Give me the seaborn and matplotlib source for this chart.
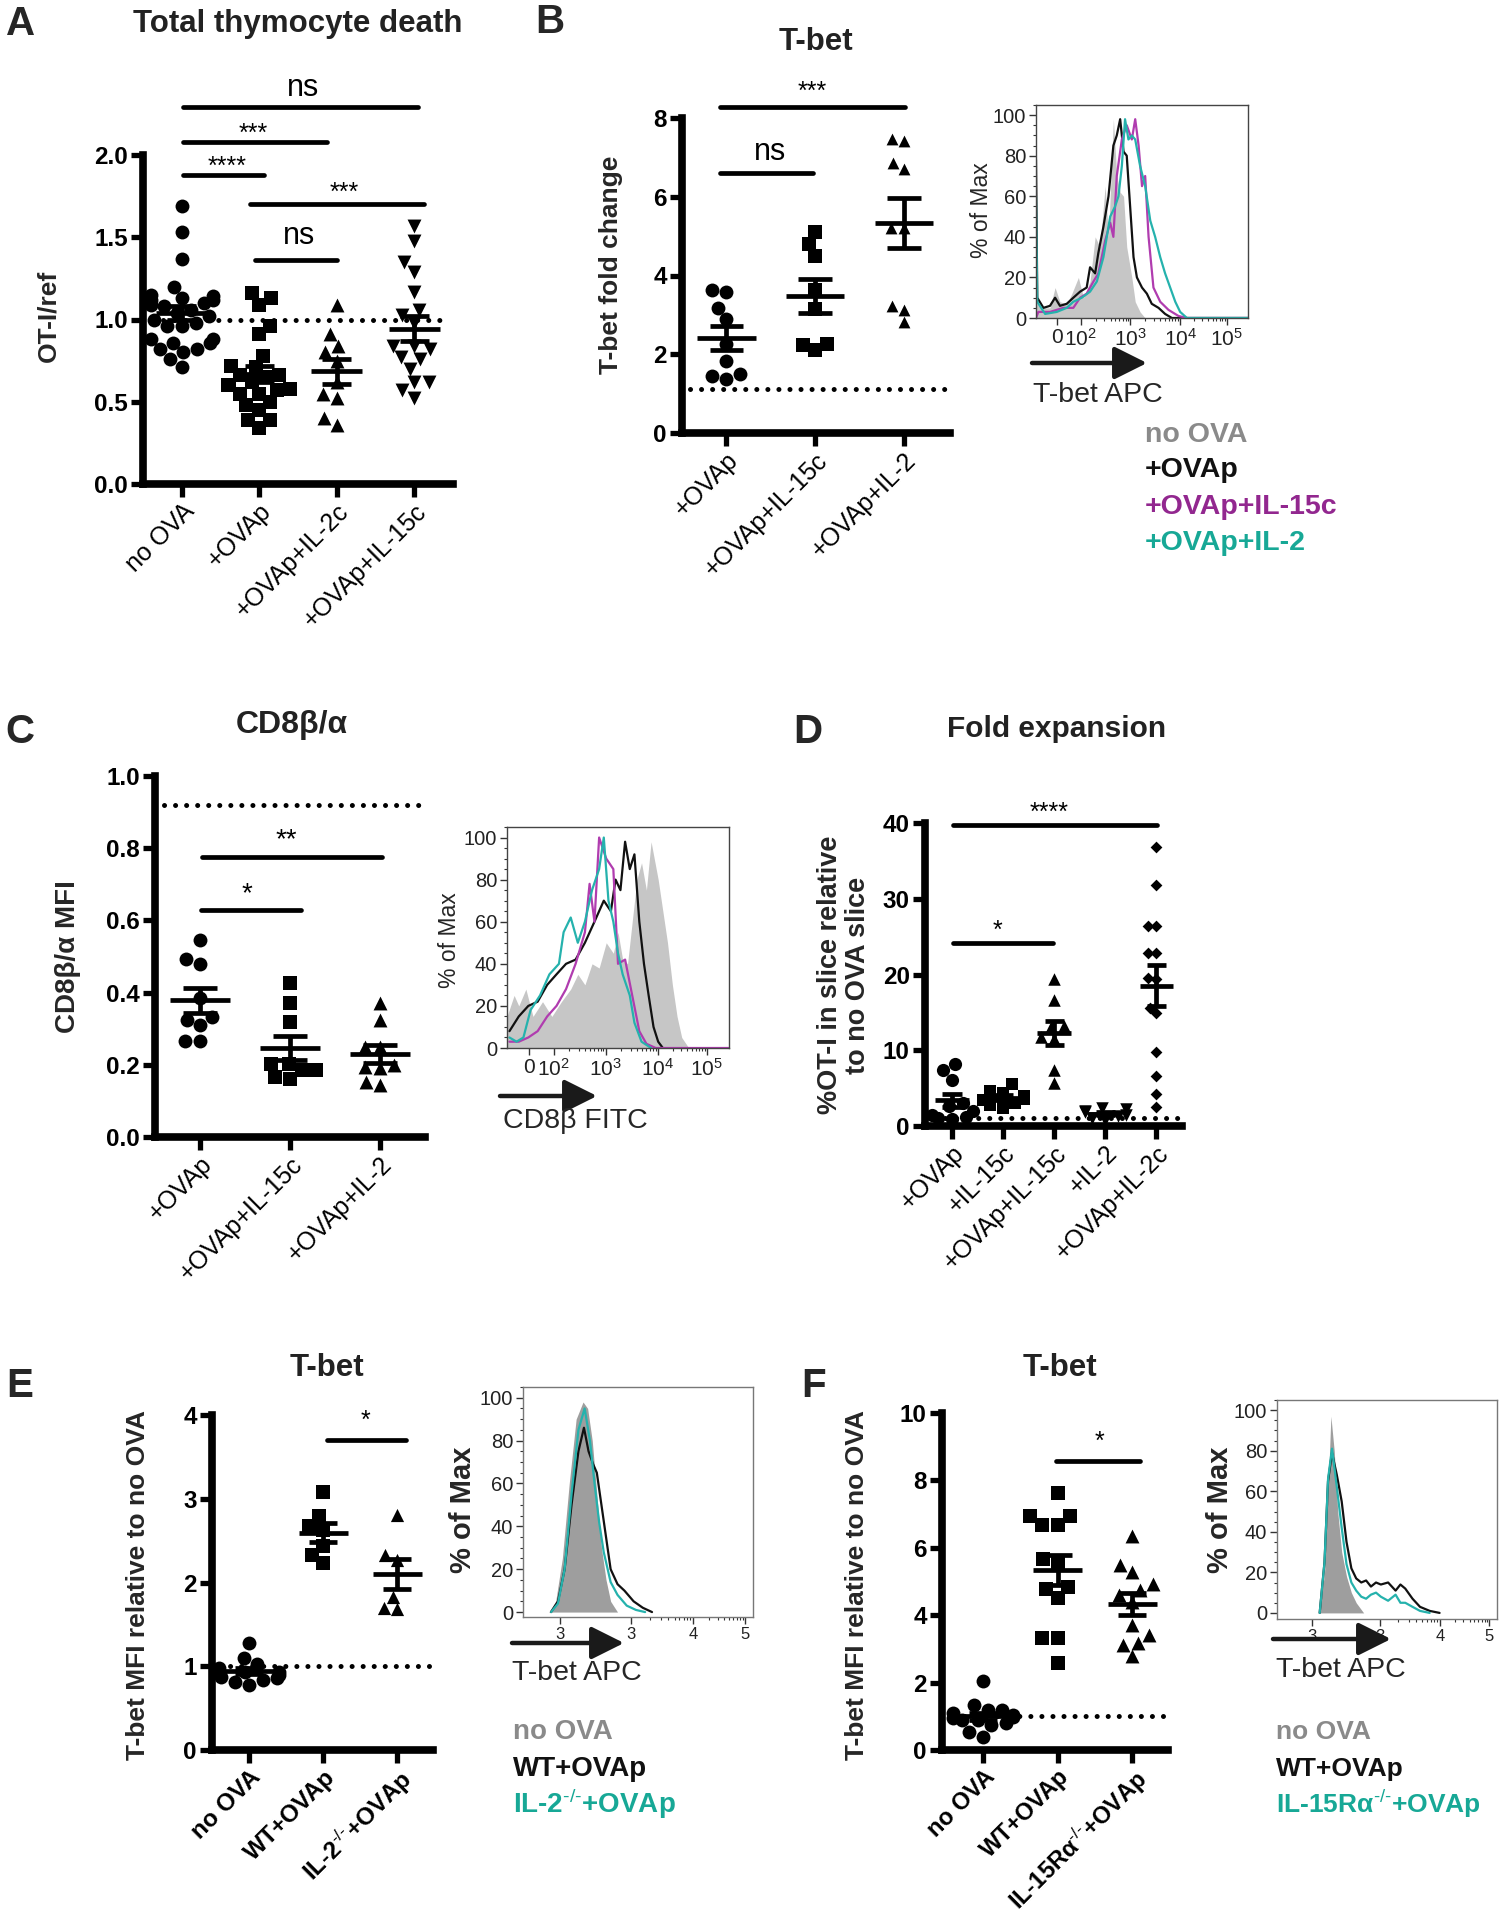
import warnings
import numpy as np
import pandas as pd
import matplotlib
matplotlib.use("Agg")
import matplotlib.pyplot as plt
import seaborn as sns
from matplotlib.patches import FancyArrowPatch
from matplotlib.ticker import MultipleLocator, FixedLocator

warnings.filterwarnings("ignore")

# =========================
# Data
# =========================

# A - total thymocyte death
a_cats = ["no OVA", "+OVAp", "+OVAp+IL-2c", "+OVAp+IL-15c"]
a_no_ova = [1.69, 1.53, 1.37, 1.20, 1.15, 1.14, 1.13, 1.12, 1.12, 1.10, 1.09, 1.08, 1.06, 1.04,
            1.02, 1.00, 0.98, 0.96, 0.96, 0.88, 0.88, 0.86, 0.86, 0.82, 0.82, 0.80, 0.76, 0.71]
a_ovap = [1.16, 1.13, 1.09, 0.96, 0.91, 0.78, 0.72, 0.71, 0.66, 0.66, 0.65, 0.62, 0.60, 0.60,
          0.58, 0.57, 0.55, 0.55, 0.50, 0.48, 0.45, 0.39, 0.39, 0.34]
a_il2c = [1.09, 0.91, 0.84, 0.80, 0.75, 0.62, 0.55, 0.52, 0.40, 0.36]
a_il15c = [1.57, 1.48, 1.35, 1.29, 1.17, 1.06, 1.03, 0.98, 0.84, 0.84, 0.82, 0.77, 0.76, 0.70,
           0.62, 0.62, 0.57, 0.52]

# B - T-bet fold change
b_cats = ["+OVAp", "+OVAp+IL-15c", "+OVAp+IL-2"]
b_ovap = [3.64, 3.58, 3.18, 2.90, 2.27, 1.82, 1.51, 1.46, 1.37]
b_il15c = [5.10, 4.80, 4.50, 3.62, 3.15, 2.27, 2.10, 2.24]
b_il2 = [7.47, 7.41, 6.86, 6.71, 5.21, 5.21, 3.23, 3.13, 2.82]

# C - CD8b/a MFI
c_cats = ["+OVAp", "+OVAp+IL-15c", "+OVAp+IL-2"]
c_ovap = [0.547, 0.494, 0.480, 0.384, 0.333, 0.325, 0.310, 0.266, 0.266]
c_il15c = [0.427, 0.370, 0.319, 0.203, 0.203, 0.185, 0.185, 0.166, 0.162]
c_il2 = [0.370, 0.323, 0.250, 0.250, 0.200, 0.194, 0.190, 0.152, 0.143]

# D - fold expansion
d_cats = ["+OVAp", "+IL-15c", "+OVAp+IL-15c", "+IL-2", "+OVAp+IL-2c"]
d_ovap = [8.2, 7.4, 6.1, 3.0, 2.6, 2.0, 1.5, 1.2, 1.0, 0.9]
d_il15c = [5.6, 4.6, 4.4, 3.9, 3.6, 3.4, 3.0, 2.8, 2.4]
d_ovap_il15c = [19.35, 16.6, 13.2, 13.1, 11.8, 11.5, 7.35, 5.66]
d_il2 = [2.4, 2.2, 2.0, 1.8, 1.5, 1.3, 1.1, 0.8]
d_ovap_il2c = [36.8, 31.8, 26.4, 26.4, 22.9, 22.9, 19.35, 19.5, 15.6, 14.9, 9.8, 6.55, 4.2, 2.5]

# E - T-bet MFI, IL-2 KO
e_cats = ["no OVA", "WT+OVAp", r"IL-2$^{\text{-/-}}$+OVAp"]
e_no_ova = [1.28, 1.10, 1.03, 0.975, 0.935, 0.935, 0.915, 0.90, 0.876, 0.856, 0.836, 0.816, 0.776]
e_wt = [3.08, 2.79, 2.67, 2.63, 2.43, 2.33, 2.23]
e_ko = [2.81, 2.33, 2.27, 1.83, 1.70, 1.68]

# F - T-bet MFI, IL-15Ra KO
f_cats = ["no OVA", "WT+OVAp", r"IL-15Rα$^{\text{-/-}}$+OVAp"]
f_no_ova = [2.06, 1.34, 1.19, 1.19, 1.09, 1.04, 0.99, 0.94, 0.89, 0.89, 0.79, 0.74, 0.54, 0.40]
f_wt = [7.62, 6.93, 6.93, 6.68, 6.68, 5.66, 5.52, 4.83, 4.77, 4.50, 3.32, 3.32, 2.57]
f_ko = [6.34, 5.50, 5.27, 4.93, 4.75, 4.60, 4.40, 3.71, 3.42, 3.17, 3.12, 2.79]

# flow histograms (x = position across plot box, y = % of max)
bh_grey_x = [0.0, 0.035, 0.066, 0.09, 0.113, 0.145, 0.169, 0.2, 0.224, 0.255, 0.279, 0.302,
             0.326, 0.342, 0.365, 0.381, 0.397, 0.413, 0.428, 0.452, 0.468, 0.491, 0.515, 1.0]
bh_grey_y = [8, 5, 5, 15, 8, 7, 12, 20, 10, 18, 40, 35, 65, 40, 98, 70, 62, 60, 35, 20, 8, 3, 0, 0]
bh_black_x = [0.0, 0.006, 0.035, 0.066, 0.09, 0.113, 0.145, 0.176, 0.208, 0.239, 0.255, 0.279,
              0.294, 0.318, 0.342, 0.365, 0.381, 0.397, 0.413, 0.428, 0.444, 0.46, 0.476, 0.5,
              0.523, 0.546, 0.578, 0.609, 0.641, 1.0]
bh_black_y = [78, 10, 5, 6, 10, 6, 7, 10, 13, 15, 25, 22, 32, 45, 60, 85, 90, 98, 82, 80, 55, 30,
              20, 15, 12, 7, 5, 2, 0, 0]
bh_mag_x = [0.0, 0.011, 0.066, 0.129, 0.176, 0.208, 0.239, 0.271, 0.294, 0.326, 0.35, 0.365,
            0.381, 0.405, 0.428, 0.452, 0.468, 0.484, 0.5, 0.515, 0.531, 0.554, 0.586, 0.625,
            0.672, 0.712, 1.0]
bh_mag_y = [0, 3, 3, 5, 5, 10, 12, 18, 22, 38, 47, 40, 70, 88, 95, 88, 98, 85, 65, 70, 40, 15,
            8, 4, 1, 0, 0]
bh_teal_x = [0.0, 0.006, 0.043, 0.098, 0.145, 0.176, 0.216, 0.255, 0.287, 0.318, 0.35, 0.373,
             0.389, 0.405, 0.42, 0.436, 0.452, 0.468, 0.491, 0.515, 0.539, 0.562, 0.586, 0.609,
             0.633, 0.657, 0.68, 0.712, 1.0]
bh_teal_y = [60, 8, 2, 3, 5, 8, 10, 13, 18, 30, 50, 55, 60, 75, 98, 88, 90, 88, 75, 65, 48, 40,
             30, 22, 15, 8, 3, 0, 0]

ch_grey_x = [0.0, 0.032, 0.053, 0.085, 0.117, 0.16, 0.202, 0.245, 0.287, 0.319, 0.351, 0.383,
             0.415, 0.447, 0.479, 0.5, 0.521, 0.543, 0.564, 0.585, 0.606, 0.628, 0.649, 0.681,
             0.702, 0.723, 0.745, 0.766, 0.787, 0.819, 1.0]
ch_grey_y = [15, 25, 20, 28, 15, 22, 15, 22, 28, 35, 30, 40, 38, 50, 45, 55, 42, 40, 60, 80, 88,
             75, 98, 80, 65, 50, 30, 15, 5, 0, 0]
ch_black_x = [0.011, 0.053, 0.096, 0.138, 0.181, 0.223, 0.266, 0.309, 0.351, 0.394, 0.436,
              0.468, 0.489, 0.511, 0.532, 0.553, 0.574, 0.596, 0.617, 0.638, 0.66, 0.681, 0.702]
ch_black_y = [8, 15, 20, 22, 30, 35, 40, 42, 50, 60, 70, 65, 80, 75, 98, 85, 92, 60, 40, 25, 10,
              3, 0]
ch_teal_x = [0.011, 0.043, 0.074, 0.106, 0.149, 0.191, 0.234, 0.255, 0.287, 0.319, 0.351, 0.383,
             0.415, 0.436, 0.457, 0.479, 0.5, 0.521, 0.553, 0.574, 0.606, 0.649]
ch_teal_y = [5, 3, 5, 18, 25, 35, 40, 55, 62, 50, 60, 75, 85, 100, 70, 60, 45, 35, 25, 12, 3, 0]
ch_mag_x = [0.011, 0.053, 0.096, 0.138, 0.181, 0.223, 0.266, 0.309, 0.351, 0.372, 0.394, 0.415,
            0.447, 0.479, 0.5, 0.532, 0.564, 0.596, 0.628, 0.67, 1.0]
ch_mag_y = [3, 3, 5, 8, 15, 20, 28, 40, 55, 78, 60, 100, 90, 85, 40, 42, 25, 8, 2, 0, 0]

eh_grey_x = [0.112, 0.142, 0.171, 0.201, 0.231, 0.261, 0.281, 0.301, 0.321, 0.341, 0.361, 0.381,
             0.411]
eh_grey_y = [0, 5, 25, 60, 90, 98, 95, 80, 55, 30, 15, 5, 0]
eh_black_x = [0.122, 0.152, 0.181, 0.211, 0.241, 0.265, 0.285, 0.305, 0.321, 0.341, 0.361,
              0.381, 0.411, 0.441, 0.481, 0.521, 0.561]
eh_black_y = [0, 5, 20, 50, 75, 86, 75, 69, 65, 50, 35, 20, 13, 10, 5, 2, 0]
eh_teal_x = [0.122, 0.152, 0.181, 0.211, 0.241, 0.268, 0.291, 0.311, 0.331, 0.351, 0.381, 0.411,
             0.451, 0.491, 0.531]
eh_teal_y = [0, 4, 20, 55, 85, 95, 80, 60, 42, 28, 14, 8, 3, 1, 0]

fh_grey_x = [0.194, 0.216, 0.232, 0.245, 0.26, 0.276, 0.294, 0.316, 0.338, 0.36, 0.394]
fh_grey_y = [0, 20, 60, 97, 80, 50, 30, 18, 10, 5, 0]
fh_black_x = [0.194, 0.216, 0.232, 0.25, 0.272, 0.294, 0.316, 0.338, 0.36, 0.383, 0.405, 0.427,
              0.45, 0.472, 0.505, 0.539, 0.561, 0.583, 0.616, 0.65, 0.694, 0.739]
fh_black_y = [0, 25, 65, 79, 68, 55, 35, 22, 17, 15, 16, 13, 15, 14, 15, 11, 14, 12, 7, 3, 1, 0]
fh_teal_x = [0.194, 0.216, 0.232, 0.25, 0.272, 0.294, 0.316, 0.338, 0.36, 0.383, 0.405, 0.427,
             0.45, 0.472, 0.505, 0.539, 0.561, 0.583, 0.616, 0.65, 0.694]
fh_teal_y = [0, 25, 66, 81, 62, 42, 24, 15, 11, 8, 7, 9, 10, 8, 6, 9, 5, 5, 3, 1, 0]

# colours
GREY_TXT = "#8a8a8a"
PURPLE_TXT = "#92278f"
TEAL_TXT = "#17a896"
PURPLE = "#b03caf"
TEAL = "#25b2ad"

# =========================
# Style
# =========================
sns.set_theme(style="ticks")
plt.rcParams["font.family"] = ["Liberation Sans", "DejaVu Sans"]
plt.rcParams["mathtext.fontset"] = "custom"
plt.rcParams["mathtext.rm"] = "Liberation Sans"
plt.rcParams["mathtext.bf"] = "Liberation Sans:bold"
plt.rcParams["mathtext.it"] = "Liberation Sans:italic"
plt.rcParams["mathtext.default"] = "regular"

W, H = 1502, 1920
fig = plt.figure(figsize=(W / 100, H / 100), dpi=100)
fig.patch.set_facecolor("white")


def px_axes(l, t, r, b):
    return fig.add_axes([l / W, 1 - b / H, (r - l) / W, (b - t) / H])


def ftext(x, y, s, **kw):
    fig.text(x / W, 1 - y / H, s, **kw)


def dot_panel(box, cats, groups, markers, sizes, ylim, yticks, ylabels, xlim, xbold=False,
              xfs=18):
    ax = px_axes(*box)
    ax.set_ylim(*ylim)
    for i, (vals, mk, sz) in enumerate(zip(groups, markers, sizes)):
        df = pd.DataFrame({"grp": cats[i], "val": vals})
        sns.swarmplot(data=df, x="grp", y="val", order=cats, marker=mk, size=sz,
                      color="black", linewidth=0, ax=ax, warn_thresh=1, zorder=3)
    # mean +/- SEM
    for i, vals in enumerate(groups):
        v = np.asarray(vals)
        m = v.mean()
        se = v.std(ddof=1) / np.sqrt(len(v))
        kw = dict(color="black", lw=3.4, solid_capstyle="butt", zorder=5)
        ax.plot([i - 0.33, i + 0.33], [m, m], **kw)
        ax.plot([i, i], [m - se, m + se], **kw)
        ax.plot([i - 0.19, i + 0.19], [m + se, m + se], **kw)
        ax.plot([i - 0.19, i + 0.19], [m - se, m - se], **kw)
    ax.set_xlim(*xlim)
    ax.set_ylim(*ylim)
    sns.despine(ax=ax)
    for s in ["left", "bottom"]:
        ax.spines[s].set_linewidth(5.5)
        ax.spines[s].set_color("black")
        ax.spines[s].set_capstyle("projecting")
    ax.tick_params(width=3.8, length=9, pad=2, color="black")
    ax.set_yticks(yticks)
    ax.set_yticklabels(ylabels, fontsize=17.5, fontweight="bold", color="black")
    ax.set_xticks(range(len(cats)))
    ax.set_xticklabels(cats, rotation=45, ha="right", rotation_mode="anchor", fontsize=xfs,
                       fontweight="bold" if xbold else "normal", color="black")
    ax.set_xlabel("")
    ax.set_ylabel("")
    ax.set_facecolor("none")
    return ax


def sig(ax, x0, x1, y, label, tx, ty, fs=18):
    ax.plot([x0, x1], [y, y], color="black", lw=3.4, solid_capstyle="round", clip_on=False)
    ax.text(tx, ty, label, ha="center", va="center", fontsize=fs, color="black", clip_on=False)


def ref_line(ax, x0, x1, y):
    ax.plot([x0, x1], [y, y], color="black", lw=3.6, ls=(0, (0.01, 2.2)),
            dash_capstyle="round", clip_on=False, zorder=1)


def hist_panel(box, fill, curves, ylim, xt, xtl, fill_color, edge_color, xt_fs=14):
    ax = px_axes(*box)
    ax.fill_between(fill[0], fill[1], color=fill_color, lw=0, zorder=1)
    for xs, ys, col in curves:
        sns.lineplot(x=xs, y=ys, color=col, lw=1.6, ax=ax, estimator=None, sort=False, zorder=2)
    ax.set_xlim(0, 1)
    ax.set_ylim(*ylim)
    for sp in ax.spines.values():
        sp.set_linewidth(1.0)
        sp.set_color(edge_color)
    ax.set_yticks([0, 20, 40, 60, 80, 100])
    ax.yaxis.set_minor_locator(MultipleLocator(5))
    ax.set_xticks(xt)
    ax.set_xticklabels(xtl, fontsize=xt_fs, color="#222222")
    minor = []
    for a, b in zip(xt[1:-1], xt[2:]):
        minor += [a + (b - a) * np.log10(k) for k in range(2, 10)]
    ax.xaxis.set_minor_locator(FixedLocator(minor))
    ax.tick_params(axis="both", which="major", length=5, width=1.0, color="#333333", pad=2)
    ax.tick_params(axis="both", which="minor", length=2.5, width=0.8, color="#333333")
    ax.tick_params(axis="y", labelsize=14.5, labelcolor="#222222")
    ax.set_xlabel("")
    ax.set_ylabel("")
    return ax


def flow_arrow(x0, x1, y):
    fig.add_artist(FancyArrowPatch((x0 / W, 1 - y / H), (x1 / W, 1 - y / H),
                                   transform=fig.transFigure, arrowstyle="-|>",
                                   mutation_scale=50, lw=3.2, color="#1a1a1a",
                                   shrinkA=0, shrinkB=0))


# =========================
# Panel A
# =========================
axA = dot_panel((143, 155, 453, 484), a_cats, [a_no_ova, a_ovap, a_il2c, a_il15c],
                ["o", "s", "^", "v"], [10, 9.5, 10, 10], (0, 2.0),
                [0, 0.5, 1.0, 1.5, 2.0], ["0.0", "0.5", "1.0", "1.5", "2.0"], (-0.5, 3.5))
ref_line(axA, -0.39, 3.41, 1.0)
sig(axA, 0.01, 3.05, 2.29, "ns", 1.56, 2.41, fs=22)
sig(axA, 0.01, 1.88, 2.08, "***", 0.92, 2.13)
sig(axA, 0.01, 1.06, 1.88, "****", 0.58, 1.93)
sig(axA, 0.88, 3.13, 1.70, "***", 2.10, 1.77)
sig(axA, 0.94, 2.00, 1.36, "ns", 1.52, 1.51, fs=22)
ftext(48, 316, "OT-I/ref", rotation=90, ha="center", va="center", fontsize=19, fontweight="bold")
ftext(21, 24, "A", ha="center", va="center", fontsize=29, fontweight="bold")
ftext(298, 24, "Total thymocyte death", ha="center", va="center", fontsize=22.5,
      fontweight="bold", color="#222222")

# =========================
# Panel B
# =========================
axB = dot_panel((682, 118, 950, 433), b_cats, [b_ovap, b_il15c, b_il2],
                ["o", "s", "^"], [10, 9.5, 8.5], (0, 8), [0, 2, 4, 6, 8],
                ["0", "2", "4", "6", "8"], (-0.5, 2.52))
ref_line(axB, -0.41, 2.49, 1.12)
sig(axB, -0.07, 2.01, 8.28, "***", 0.97, 8.66)
sig(axB, -0.07, 0.98, 6.6, "ns", 0.49, 7.13, fs=22)
ftext(611, 265, "T-bet fold change", rotation=90, ha="center", va="center", fontsize=19,
      fontweight="bold")
ftext(550, 22, "B", ha="center", va="center", fontsize=29, fontweight="bold")
ftext(816, 42, "T-bet", ha="center", va="center", fontsize=22.5, fontweight="bold",
      color="#222222")

hist_ticks = [0.1, 0.21, 0.445, 0.68, 0.9]
hist_labels = ["0", "$10^2$", "$10^3$", "$10^4$", "$10^5$"]
hist_panel((1036, 105, 1248, 318), (bh_grey_x, bh_grey_y),
           [(bh_black_x, bh_black_y, "#111111"), (bh_mag_x, bh_mag_y, PURPLE),
            (bh_teal_x, bh_teal_y, TEAL)],
           (0, 105), hist_ticks, hist_labels, "#c6c6c6", "#444444", xt_fs=15)
ftext(982, 210, "% of Max", rotation=90, ha="center", va="center", fontsize=16.5)
flow_arrow(1032, 1147, 363)
ftext(1033, 395, "T-bet APC", ha="left", va="center", fontsize=20.5)
for txt, yy, col in [("no OVA", 435, GREY_TXT), ("+OVAp", 470, "#111111"),
                     ("+OVAp+IL-15c", 507, PURPLE_TXT), ("+OVAp+IL-2", 543, TEAL_TXT)]:
    ftext(1145, yy, txt, ha="left", va="center", fontsize=20.5, fontweight="bold", color=col)

# =========================
# Panel C
# =========================
axC = dot_panel((155, 776, 425, 1137), c_cats, [c_ovap, c_il15c, c_il2],
                ["o", "s", "^"], [10, 10, 10], (0, 1.0),
                [0, 0.2, 0.4, 0.6, 0.8, 1.0], ["0.0", "0.2", "0.4", "0.6", "0.8", "1.0"],
                (-0.5, 2.5))
ref_line(axC, -0.4, 2.47, 0.92)
sig(axC, 0.02, 2.02, 0.776, "**", 0.96, 0.822, fs=20)
sig(axC, 0.01, 1.12, 0.63, "*", 0.52, 0.672, fs=20)
ftext(68, 957, "CD8β/α MFI", rotation=90, ha="center", va="center", fontsize=20,
      fontweight="bold")
ftext(20, 732, "C", ha="center", va="center", fontsize=29, fontweight="bold")
ftext(292, 725, "CD8β/α", ha="center", va="center", fontsize=23, fontweight="bold",
      color="#222222")

hist_panel((507, 827, 729, 1048), (ch_grey_x, ch_grey_y),
           [(ch_black_x, ch_black_y, "#111111"), (ch_mag_x, ch_mag_y, PURPLE),
            (ch_teal_x, ch_teal_y, TEAL)],
           (0, 105), hist_ticks, hist_labels, "#c6c6c6", "#444444", xt_fs=15)
ftext(450, 940, "% of Max", rotation=90, ha="center", va="center", fontsize=16.5)
flow_arrow(500, 597, 1096)
ftext(503, 1121, "CD8β FITC", ha="left", va="center", fontsize=20.5)

# =========================
# Panel D
# =========================
axD = dot_panel((925, 823, 1182, 1126), d_cats,
                [d_ovap, d_il15c, d_ovap_il15c, d_il2, d_ovap_il2c],
                ["o", "s", "^", "v", "D"], [9.5, 9, 9, 9, 6], (0, 40),
                [0, 10, 20, 30, 40], ["0", "10", "20", "30", "40"], (-0.53, 4.5))
ref_line(axD, -0.35, 4.5, 1.0)
sig(axD, 0.02, 4.02, 39.7, "****", 1.9, 41.3)
sig(axD, 0.02, 1.98, 24.1, "*", 0.88, 25.7)
ftext(844, 975, "%OT-I in slice relative\nto no OVA slice", rotation=90, ha="center",
      va="center", fontsize=19.5, fontweight="bold", multialignment="center", linespacing=1.1)
ftext(808, 732, "D", ha="center", va="center", fontsize=29, fontweight="bold")
ftext(1057, 729, "Fold expansion", ha="center", va="center", fontsize=21.5, fontweight="bold",
      color="#222222")

# =========================
# Panel E
# =========================
axE = dot_panel((212, 1415, 433, 1750), e_cats, [e_no_ova, e_wt, e_ko],
                ["o", "s", "^"], [10, 10, 9.5], (0, 4), [0, 1, 2, 3, 4],
                ["0", "1", "2", "3", "4"], (-0.5, 2.48), xbold=True, xfs=17.5)
ref_line(axE, -0.41, 2.47, 1.0)
sig(axE, 1.05, 2.12, 3.70, "*", 1.57, 3.93)
ftext(138, 1585, "T-bet MFI relative to no OVA", rotation=90, ha="center", va="center",
      fontsize=19, fontweight="bold")
ftext(20, 1386, "E", ha="center", va="center", fontsize=29, fontweight="bold")
ftext(327, 1368, "T-bet", ha="center", va="center", fontsize=22.5, fontweight="bold",
      color="#222222")

ef_ticks = [0.16, 0.47, 0.74, 0.965]
ef_labels = ["3", "3", "4", "5"]
hist_panel((523, 1387, 753, 1617), (eh_grey_x, eh_grey_y),
           [(eh_black_x, eh_black_y, "#111111"), (eh_teal_x, eh_teal_y, TEAL)],
           (-2.3, 105), ef_ticks, ef_labels, "#9e9e9e", "#777777", xt_fs=12)
ftext(463, 1510, "% of Max", rotation=90, ha="center", va="center", fontsize=21,
      fontweight="bold")
flow_arrow(512, 624, 1643)
ftext(512, 1673, "T-bet APC", ha="left", va="center", fontsize=20.5)
for txt, yy, col in [("no OVA", 1732, GREY_TXT), ("WT+OVAp", 1769, "#111111"),
                     (r"IL-2$^{\text{-/-}}$+OVAp", 1804, TEAL_TXT)]:
    ftext(513, yy, txt, ha="left", va="center", fontsize=20, fontweight="bold", color=col)

# =========================
# Panel F
# =========================
axF = dot_panel((942, 1413, 1168, 1750), f_cats, [f_no_ova, f_wt, f_ko],
                ["o", "s", "^"], [10, 10.5, 10], (0, 10), [0, 2, 4, 6, 8, 10],
                ["0", "2", "4", "6", "8", "10"], (-0.55, 2.48), xbold=True, xfs=17)
ref_line(axF, -0.4, 2.45, 1.0)
sig(axF, 0.98, 2.11, 8.58, "*", 1.56, 9.15)
ftext(857, 1585, "T-bet MFI relative to no OVA", rotation=90, ha="center", va="center",
      fontsize=19, fontweight="bold")
ftext(814, 1386, "F", ha="center", va="center", fontsize=29, fontweight="bold")
ftext(1060, 1368, "T-bet", ha="center", va="center", fontsize=22.5, fontweight="bold",
      color="#222222")

hist_panel((1277, 1400, 1497, 1619), (fh_grey_x, fh_grey_y),
           [(fh_black_x, fh_black_y, "#111111"), (fh_teal_x, fh_teal_y, TEAL)],
           (-3, 105), ef_ticks, ef_labels, "#9e9e9e", "#777777", xt_fs=12)
ftext(1220, 1510, "% of Max", rotation=90, ha="center", va="center", fontsize=21,
      fontweight="bold")
flow_arrow(1273, 1391, 1639)
ftext(1276, 1670, "T-bet APC", ha="left", va="center", fontsize=20.5)
for txt, yy, col in [("no OVA", 1732, GREY_TXT), ("WT+OVAp", 1769, "#111111"),
                     (r"IL-15Rα$^{\text{-/-}}$+OVAp", 1804, TEAL_TXT)]:
    ftext(1276, yy, txt, ha="left", va="center", fontsize=19, fontweight="bold", color=col)

fig.savefig("out.png", dpi=100, facecolor="white")
